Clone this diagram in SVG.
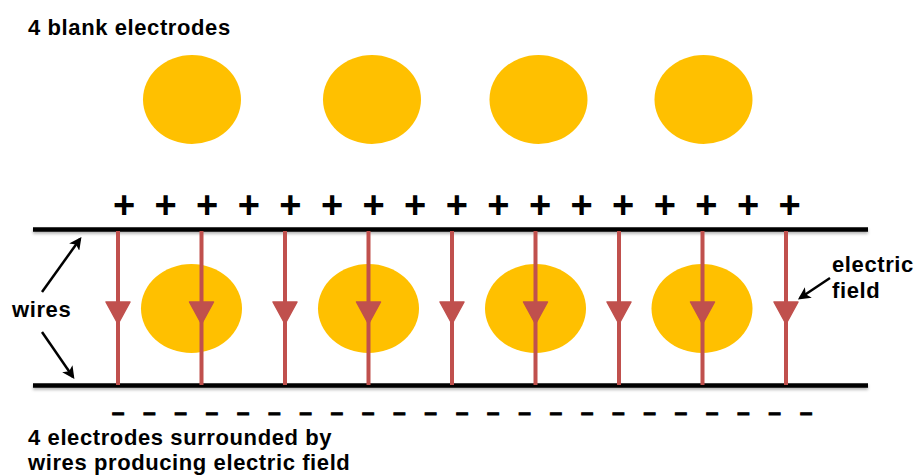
<svg xmlns="http://www.w3.org/2000/svg" xmlns:xlink="http://www.w3.org/1999/xlink" width="918" height="475" viewBox="0 0 918 475">
  <style>
    .label { font-family: "Liberation Sans", Arial, Helvetica, sans-serif; font-weight: bold; font-size: 22px; fill: #000; letter-spacing: 0.6px; }
    .charge { font-family: "Liberation Sans", Arial, Helvetica, sans-serif; font-weight: bold; fill: #000; text-anchor: middle; }
    .plus { font-size: 38px; }
    .minus { font-size: 22px; stroke: #000; stroke-width: 1.2px; }
    .electrode { fill: #FFC000; }
    .wire { stroke: #000; stroke-width: 4.5; fill: none; }
    .field { stroke: #C0504D; stroke-width: 4; fill: none; }
    .fieldHead { fill: #C0504D; stroke: #C0504D; stroke-width: 1.5; stroke-linejoin: round; }
    .pointer { stroke: #000; stroke-width: 2.5; fill: none; }
  </style>
  <defs>
    <filter id="softShadow" x="-5%" y="-50%" width="110%" height="200%">
      <feDropShadow dx="0" dy="2" stdDeviation="1.5" flood-color="#000" flood-opacity="0.3"/>
    </filter>
    <marker id="pointerHead" viewBox="0 0 10 10" refX="8" refY="5" markerWidth="5" markerHeight="5" orient="auto" markerUnits="strokeWidth">
      <path d="M0,0 L10,5 L0,10 L2.5,5 Z" fill="#000"/>
    </marker>
    <!-- one field line between the wires, arrow pointing down -->
    <g id="fieldLine">
      <line class="field" x1="0" y1="231" x2="0" y2="385"/>
      <polygon class="fieldHead" points="-12,302 12,302 0,324"/>
    </g>
  </defs>

  <rect width="918" height="475" fill="#fff"/>

  <text class="label" x="28" y="35">4 blank electrodes</text>

  <!-- blank electrodes -->
  <g id="blank-electrodes">
    <ellipse id="blank-1" class="electrode" cx="192" cy="99.5" rx="49" ry="44.5"/>
    <ellipse id="blank-2" class="electrode" cx="372" cy="99.5" rx="49" ry="44.5"/>
    <ellipse id="blank-3" class="electrode" cx="538.5" cy="99.5" rx="49" ry="44.5"/>
    <ellipse id="blank-4" class="electrode" cx="703.5" cy="99.5" rx="49" ry="44.5"/>
  </g>

  <!-- positive charges on the upper wire -->
  <g id="plus-charges" class="charge plus">
    <text x="124" y="218">+</text>
    <text x="165.6" y="218">+</text>
    <text x="207.2" y="218">+</text>
    <text x="248.8" y="218">+</text>
    <text x="290.4" y="218">+</text>
    <text x="332" y="218">+</text>
    <text x="373.6" y="218">+</text>
    <text x="415.2" y="218">+</text>
    <text x="456.8" y="218">+</text>
    <text x="498.4" y="218">+</text>
    <text x="540" y="218">+</text>
    <text x="581.6" y="218">+</text>
    <text x="623.2" y="218">+</text>
    <text x="664.8" y="218">+</text>
    <text x="706.4" y="218">+</text>
    <text x="748" y="218">+</text>
    <text x="789.6" y="218">+</text>
  </g>

  <!-- electrodes between the wires -->
  <g id="surrounded-electrodes">
    <ellipse id="electrode-1" class="electrode" cx="191.5" cy="308.5" rx="50.5" ry="44.5"/>
    <ellipse id="electrode-2" class="electrode" cx="368.5" cy="308.5" rx="50.5" ry="44.5"/>
    <ellipse id="electrode-3" class="electrode" cx="535.5" cy="308.5" rx="50.5" ry="44.5"/>
    <ellipse id="electrode-4" class="electrode" cx="702" cy="308.5" rx="50.5" ry="44.5"/>
  </g>

  <!-- wires -->
  <g id="wires" filter="url(#softShadow)">
    <line id="wire-top" class="wire" x1="33" y1="229.5" x2="868" y2="229.5"/>
    <line id="wire-bottom" class="wire" x1="33" y1="385.5" x2="868" y2="385.5"/>
  </g>

  <!-- electric field lines -->
  <g id="connectors">
    <use xlink:href="#fieldLine" x="118"/>
    <use xlink:href="#fieldLine" x="201.5"/>
    <use xlink:href="#fieldLine" x="285"/>
    <use xlink:href="#fieldLine" x="368.5"/>
    <use xlink:href="#fieldLine" x="452"/>
    <use xlink:href="#fieldLine" x="535.5"/>
    <use xlink:href="#fieldLine" x="619"/>
    <use xlink:href="#fieldLine" x="702.5"/>
    <use xlink:href="#fieldLine" x="786"/>
    <!-- pointers -->
    <line class="pointer" x1="42" y1="292" x2="80" y2="239" marker-end="url(#pointerHead)"/>
    <line class="pointer" x1="42" y1="332" x2="73" y2="377" marker-end="url(#pointerHead)"/>
    <line class="pointer" x1="830" y1="278" x2="800" y2="298" marker-end="url(#pointerHead)"/>
  </g>

  <!-- negative charges under the lower wire -->
  <g id="minus-charges" class="charge minus">
    <text x="118" y="420">–</text>
    <text x="149.3" y="420">–</text>
    <text x="180.5" y="420">–</text>
    <text x="211.8" y="420">–</text>
    <text x="243.1" y="420">–</text>
    <text x="274.3" y="420">–</text>
    <text x="305.6" y="420">–</text>
    <text x="336.9" y="420">–</text>
    <text x="368.2" y="420">–</text>
    <text x="399.4" y="420">–</text>
    <text x="430.7" y="420">–</text>
    <text x="462" y="420">–</text>
    <text x="493.2" y="420">–</text>
    <text x="524.5" y="420">–</text>
    <text x="555.8" y="420">–</text>
    <text x="587.1" y="420">–</text>
    <text x="618.3" y="420">–</text>
    <text x="649.6" y="420">–</text>
    <text x="680.9" y="420">–</text>
    <text x="712.1" y="420">–</text>
    <text x="743.4" y="420">–</text>
    <text x="774.7" y="420">–</text>
    <text x="806" y="420">–</text>
  </g>

  <text class="label" x="12" y="317">wires</text>
  <text class="label" x="832" y="272">electric</text>
  <text class="label" x="832" y="298">field</text>

  <text class="label" x="28" y="445">4 electrodes surrounded by</text>
  <text class="label" x="28" y="470">wires producing electric field</text>
</svg>
